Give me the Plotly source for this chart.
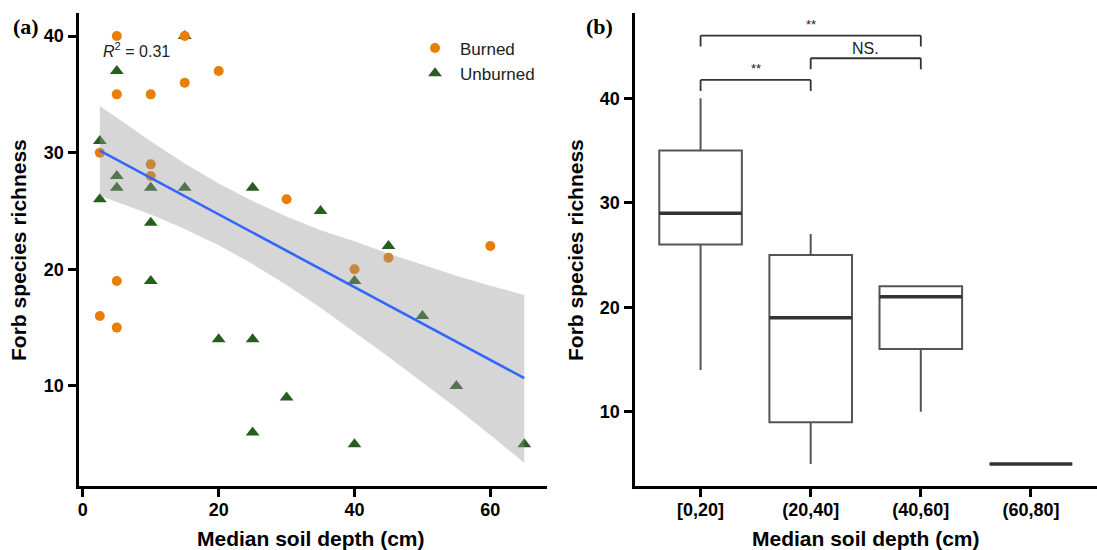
import plotly.graph_objects as go

# ---------------- Panel (a) data ----------------
burned_x = [5, 15, 5, 10, 15, 20, 2.5, 10, 10, 5, 2.5, 5, 30, 60, 45, 40]
burned_y = [40, 40, 35, 35, 36, 37, 30, 29, 28, 19, 16, 15, 26, 22, 21, 20]

unburned_x = [15, 5, 2.5, 5, 5, 10, 15, 2.5, 10, 10, 20, 25, 25, 35, 45, 40, 50, 25, 30, 55, 40, 65]
unburned_y = [40, 37, 31, 28, 27, 27, 27, 26, 24, 19, 14, 14, 27, 25, 22, 19, 16, 6, 9, 10, 5, 5]

# fitted line and its confidence band
fit_x = [2.5, 65]
fit_y = [30.17, 10.67]
band_x = [2.5, 5, 10, 15, 20, 25, 30, 35, 40, 45, 50, 55, 60, 65]
band_upper = [34.0, 32.98, 30.97, 29.08, 27.36, 25.85, 24.52, 23.35, 22.4, 21.35, 20.4, 19.45, 18.6, 17.8]
band_lower = [26.3, 25.80, 24.69, 23.46, 22.06, 20.45, 18.66, 16.71, 14.6, 12.5, 10.3, 8.1, 5.8, 3.4]
r2_text = "<i>R</i><sup>2</sup> = 0.31"

# ---------------- Panel (b) data ----------------
bins = ["[0,20]", "(20,40]", "(40,60]", "(60,80]"]
box_low = [14, 5, 10, 5]
box_q1 = [26, 9, 16, 5]
box_med = [29, 19, 21, 5]
box_q3 = [35, 25, 22, 5]
box_high = [40, 27, 22, 5]

# significance brackets: (left bin index, right bin index, bracket height, label)
brk_left = [0, 1, 0]
brk_right = [1, 2, 2]
brk_y = [41.75, 43.83, 46.0]
brk_label = ["**", "NS.", "**"]

# ---------------- styling ----------------
W, H = 1097, 550
FONT = "Liberation Sans, Arial, sans-serif"
ORANGE = "#E87E04"
GREEN = "#285D20"
BOXLINE = "#555555"


def px_x(p):
    return p / W


def px_y(p):
    return 1 - p / H


fig = go.Figure()

# unburned first so burned circles sit on top
fig.add_trace(go.Scatter(
    x=unburned_x, y=unburned_y, mode="markers", name="Unburned",
    marker=dict(symbol="triangle-up", size=12, color=GREEN),
    xaxis="x", yaxis="y", legendrank=2))
fig.add_trace(go.Scatter(
    x=burned_x, y=burned_y, mode="markers", name="Burned",
    marker=dict(symbol="circle", size=10, color=ORANGE),
    xaxis="x", yaxis="y", legendrank=1))

# confidence band on top of points (semi-transparent grey)
fig.add_trace(go.Scatter(
    x=band_x + band_x[::-1], y=band_upper + band_lower[::-1],
    fill="toself", fillcolor="rgba(153,153,153,0.4)", line=dict(width=0),
    mode="lines", hoverinfo="skip", showlegend=False, xaxis="x", yaxis="y"))
fig.add_trace(go.Scatter(
    x=fit_x, y=fit_y, mode="lines", line=dict(color="#3366FF", width=2.6),
    showlegend=False, xaxis="x", yaxis="y"))

# panel (b) boxes
fig.add_trace(go.Box(
    x=bins, q1=box_q1, median=box_med, q3=box_q3,
    lowerfence=box_low, upperfence=box_high,
    width=0.75, whiskerwidth=0, fillcolor="white",
    line=dict(color=BOXLINE, width=2), showlegend=False,
    xaxis="x2", yaxis="y2"))

shapes = []
# thicker median lines (ggplot style)
for i, m in enumerate(box_med):
    shapes.append(dict(type="line", xref="x2", yref="y2",
                       x0=i - 0.375, x1=i + 0.375, y0=m, y1=m,
                       line=dict(color="#333333", width=3.5)))

annotations = []
leg = 1.05
for a, b, yv, lab in zip(brk_left, brk_right, brk_y, brk_label):
    for seg in [(a, yv - leg, a, yv), (a, yv, b, yv), (b, yv, b, yv - leg)]:
        shapes.append(dict(type="line", xref="x2", yref="y2",
                           x0=seg[0], y0=seg[1], x1=seg[2], y1=seg[3],
                           line=dict(color="#333333", width=1.8)))
    annotations.append(dict(
        x=(a + b) / 2, y=yv + (0.15 if lab == "**" else -0.05), xref="x2", yref="y2",
        text=lab, showarrow=False, yanchor="bottom",
        font=dict(family=FONT, size=13 if lab == "**" else 16, color="#222222")))

# R^2 label
annotations.append(dict(x=2.7, y=38.8, xref="x", yref="y", text=r2_text,
                        showarrow=False, xanchor="left", yanchor="middle",
                        font=dict(family=FONT, size=16, color="#222222")))

# panel letters
for txt, xp in [("(a)", 11), ("(b)", 584)]:
    annotations.append(dict(x=px_x(xp), y=px_y(27), xref="paper", yref="paper",
                            text="<b>%s</b>" % txt, showarrow=False,
                            xanchor="left", yanchor="middle",
                            font=dict(family="Liberation Serif, Times New Roman, serif",
                                      size=22, color="black")))

# axis titles
for xc in [311.5, 865.5]:
    annotations.append(dict(x=px_x(xc), y=px_y(538), xref="paper", yref="paper",
                            text="<b>Median soil depth (cm)</b>", showarrow=False,
                            xanchor="center", yanchor="middle",
                            font=dict(family=FONT, size=21, color="black")))
for xc in [18, 575]:
    annotations.append(dict(x=px_x(xc), y=px_y(250), xref="paper", yref="paper",
                            text="<b>Forb species richness</b>", showarrow=False,
                            textangle=-90, xanchor="center", yanchor="middle",
                            font=dict(family=FONT, size=21, color="black")))

axis_common = dict(showline=True, linecolor="black", linewidth=3,
                   ticks="outside", ticklen=8, tickwidth=2.5, tickcolor="black",
                   showgrid=False, zeroline=False,
                   tickfont=dict(family=FONT, size=18, color="black", weight="bold"))

y_dom = [px_y(486), px_y(13.3)]

fig.update_layout(
    width=W, height=H,
    margin=dict(l=0, r=0, t=0, b=0),
    plot_bgcolor="white", paper_bgcolor="white",
    showlegend=True,
    legend=dict(x=px_x(410), y=px_y(30.5), xanchor="left", yanchor="top",
                itemwidth=40,
                font=dict(family=FONT, size=17, color="#222222"),
                bgcolor="rgba(0,0,0,0)", tracegroupgap=0),
    xaxis=dict(domain=[px_x(78.5), px_x(546.7)], range=[-0.64, 68.3],
               tickvals=[0, 20, 40, 60], anchor="y", ticklabelstandoff=-3,
               **axis_common),
    yaxis=dict(domain=y_dom, range=[1.42, 41.95], tickvals=[10, 20, 30, 40],
               anchor="x", **axis_common),
    xaxis2=dict(domain=[px_x(634.5), 1.0], range=[-0.6, 3.6], type="category",
                anchor="y2", ticklabelstandoff=-3, **axis_common),
    yaxis2=dict(domain=y_dom, range=[2.89, 48.13], tickvals=[10, 20, 30, 40],
                anchor="x2", **axis_common),
    shapes=shapes,
    annotations=annotations,
)

fig.write_html("out.html", config={"displayModeBar": False},
               post_script="document.body.style.margin='0';document.body.style.padding='0';")
